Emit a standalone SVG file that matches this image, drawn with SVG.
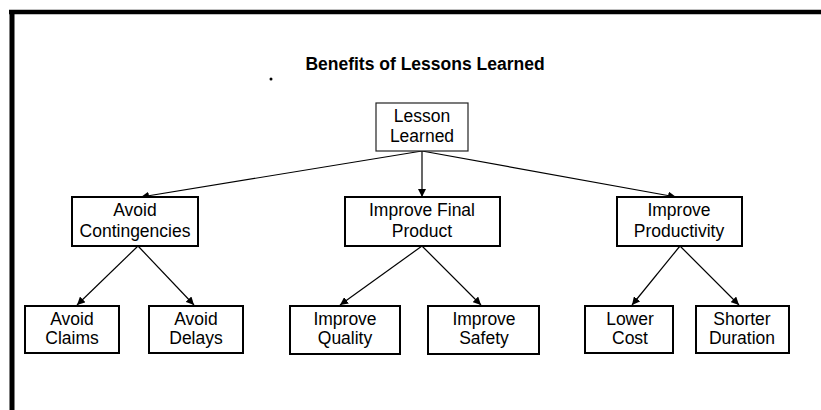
<svg xmlns="http://www.w3.org/2000/svg" width="821" height="410" viewBox="0 0 821 410">
<style>
.box{fill:#fff;stroke:#000;stroke-width:2}
.thin{fill:#fff;stroke:#222;stroke-width:1.2}
.t{font-family:"Liberation Sans",Arial,sans-serif;font-size:17.5px;fill:#000;text-anchor:middle}
.title{font-family:"Liberation Sans",Arial,sans-serif;font-size:17.5px;font-weight:bold;fill:#000;text-anchor:middle}
.c{stroke:#000;stroke-width:1.2;fill:none;marker-end:url(#ah)}
</style>
<defs>
<marker id="ah" viewBox="0 0 10 10" refX="10" refY="5" markerWidth="8" markerHeight="8" markerUnits="userSpaceOnUse" orient="auto">
<path d="M0,0 L10,5 L0,10 z" fill="#000"/>
</marker>
</defs>
<rect x="0" y="0" width="821" height="410" fill="#fff"/>
<g id="frame">
<line x1="9" y1="12" x2="821" y2="12" stroke="#000" stroke-width="4.5"/>
<line x1="12" y1="10" x2="12" y2="410" stroke="#000" stroke-width="5"/>
</g>
<text class="title" x="425" y="70">Benefits of Lessons Learned</text>
<circle cx="271" cy="79" r="1.5" fill="#000"/>
<g id="connectors">
<line class="c" x1="422" y1="151" x2="141" y2="197"/>
<line class="c" x1="422" y1="151" x2="422" y2="197"/>
<line class="c" x1="422" y1="151" x2="676" y2="197"/>
<line class="c" x1="138" y1="246" x2="77" y2="305"/>
<line class="c" x1="138" y1="246" x2="194" y2="305"/>
<line class="c" x1="422" y1="246" x2="340" y2="305"/>
<line class="c" x1="422" y1="246" x2="481" y2="305"/>
<line class="c" x1="680" y1="246" x2="632" y2="305"/>
<line class="c" x1="680" y1="246" x2="739" y2="305"/>
</g>
<g id="n_lesson">
<rect class="thin" x="376" y="103" width="92" height="48"/>
<text class="t" x="422" y="122">Lesson</text>
<text class="t" x="422" y="142">Learned</text>
</g>
<g id="n_contingencies">
<rect class="box" x="72" y="197" width="126" height="49"/>
<text class="t" x="135" y="216">Avoid</text>
<text class="t" x="135" y="237">Contingencies</text>
</g>
<g id="n_final">
<rect class="box" x="345" y="197" width="155" height="49"/>
<text class="t" x="422" y="216">Improve Final</text>
<text class="t" x="422" y="237">Product</text>
</g>
<g id="n_productivity">
<rect class="box" x="617" y="197" width="125" height="49"/>
<text class="t" x="679" y="216">Improve</text>
<text class="t" x="679" y="237">Productivity</text>
</g>
<g id="n_claims">
<rect class="box" x="25" y="306" width="94" height="47"/>
<text class="t" x="72" y="325">Avoid</text>
<text class="t" x="72" y="344">Claims</text>
</g>
<g id="n_delays">
<rect class="box" x="149" y="306" width="94" height="47"/>
<text class="t" x="196" y="325">Avoid</text>
<text class="t" x="196" y="344">Delays</text>
</g>
<g id="n_quality">
<rect class="box" x="290" y="306" width="110" height="48"/>
<text class="t" x="345" y="325">Improve</text>
<text class="t" x="345" y="344">Quality</text>
</g>
<g id="n_safety">
<rect class="box" x="428" y="306" width="111" height="48"/>
<text class="t" x="484" y="325">Improve</text>
<text class="t" x="484" y="344">Safety</text>
</g>
<g id="n_cost">
<rect class="box" x="585" y="306" width="88" height="47"/>
<text class="t" x="630" y="325">Lower</text>
<text class="t" x="630" y="344">Cost</text>
</g>
<g id="n_duration">
<rect class="box" x="696" y="306" width="93" height="47"/>
<text class="t" x="742" y="325">Shorter</text>
<text class="t" x="742" y="344">Duration</text>
</g>
</svg>
